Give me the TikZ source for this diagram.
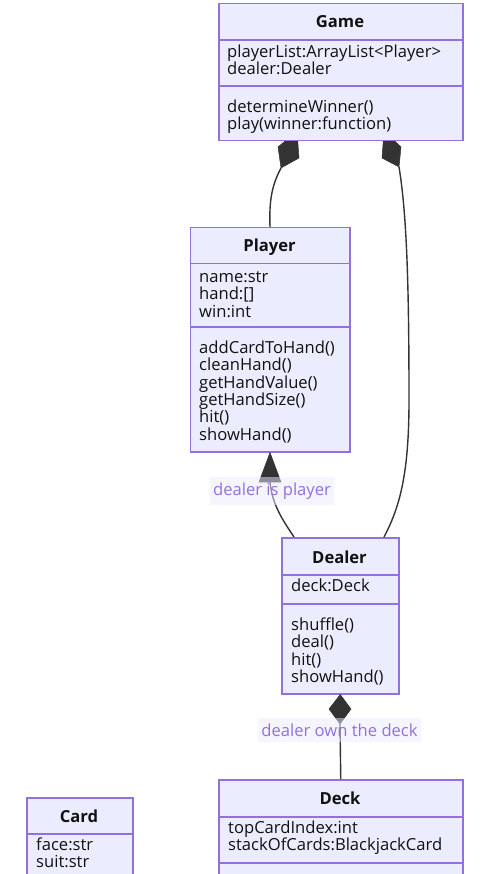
\documentclass[tikz,border=0pt]{standalone}
\usepackage{fontspec}
\setmainfont{Open Sans}
\definecolor{boxfill}{HTML}{ECECFF}
\definecolor{boxline}{HTML}{9370DB}
\definecolor{edge}{HTML}{333333}
\definecolor{txtcol}{HTML}{111111}
\begin{document}
\begin{tikzpicture}[x=1pt,y=-1pt,
  classbox/.style={draw=boxline,fill=boxfill,line width=1.5pt,inner sep=0pt,anchor=north west},
  sep/.style={draw=boxline,line width=1.5pt},
  title/.style={font=\fontsize{16.6}{17}\selectfont\bfseries,text=txtcol,inner sep=0pt,anchor=base},
  txt/.style={font=\fontsize{16.6}{17}\selectfont,text=txtcol,inner sep=0pt,anchor=base west},
  link/.style={draw=edge,line width=1.4pt},
  headfill/.style={fill=edge,draw=edge,line width=0.5pt},
  lbl/.style={fill=boxfill,fill opacity=0.5,text opacity=1,text=boxline,font=\fontsize{16.6}{17}\selectfont,inner xsep=3pt,inner ysep=6pt}
]
\useasboundingbox (0,0) rectangle (483,874);
\clip (0,0) rectangle (483,874);

% ---- composition diamonds at Game (behind box) ----
\coordinate (gdL) at (281,168);
\coordinate (gdR) at (399,167);
\fill[headfill] (gdL) -- (278,147) -- (297,131) -- (299,158) -- cycle;
\fill[headfill] (gdR) -- (401,147) -- (384,131) -- (382,158) -- cycle;

% ---- class boxes ----
\node[classbox,minimum width=244pt,minimum height=137pt] (game) at (218,3) {};
\node[classbox,minimum width=159.5pt,minimum height=224pt] (player) at (189.5,227) {};
\node[classbox,minimum width=117pt,minimum height=156pt] (dealer) at (281,537) {};
\node[classbox,minimum width=244pt,minimum height=120pt] (deck) at (218,779) {};
\node[classbox,minimum width=106pt,minimum height=100pt] (card) at (26,797) {};

% separators
\draw[sep] (218,40) -- (462,40);
\draw[sep] (218,86) -- (462,86);
\draw[sep] (189.5,263.5) -- (349,263.5);
\draw[sep] (189.5,327) -- (349,327);
\draw[sep] (281,575) -- (398,575);
\draw[sep] (281,604) -- (398,604);
\draw[sep] (218,817) -- (462,817);
\draw[sep] (218,863) -- (462,863);
\draw[sep] (26,834) -- (132,834);

% ---- texts ----
\node[title] (gameT) at (340,28) {Game};
\foreach \t [count=\i] in {playerList:ArrayList<Player>,dealer:Dealer}
  \node[txt] (gameA\i) at (227,{57.5+(\i-1)*17.3}) {\t};
\foreach \t [count=\i] in {determineWinner(),play(winner:function)}
  \node[txt] (gameM\i) at (227,{112.5+(\i-1)*17.3}) {\t};

\node[title] (playerT) at (269.5,251.5) {Player};
\foreach \t [count=\i] in {name:str,{hand:[]},win:int}
  \node[txt] (playerA\i) at (199,{282.5+(\i-1)*17.3}) {\t};
\foreach \t [count=\i] in {addCardToHand(),cleanHand(),getHandValue(),getHandSize(),hit(),showHand()}
  \node[txt] (playerM\i) at (199,{353.5+(\i-1)*17.3}) {\t};

\node[title] (dealerT) at (339.5,563.5) {Dealer};
\node[txt] (dealerA1) at (291,591.5) {deck:Deck};
\foreach \t [count=\i] in {shuffle(),deal(),hit(),showHand()}
  \node[txt] (dealerM\i) at (291,{630.5+(\i-1)*17.3}) {\t};

\node[title] (deckT) at (340,804.5) {Deck};
\foreach \t [count=\i] in {topCardIndex:int,stackOfCards:BlackjackCard}
  \node[txt] (deckA\i) at (228,{833.5+(\i-1)*17.3}) {\t};

\node[title] (cardT) at (79,822.5) {Card};
\foreach \t [count=\i] in {face:str,suit:str}
  \node[txt] (cardA\i) at (36,{850.5+(\i-1)*17.3}) {\t};

% ---- connectors ----
\coordinate (dlrL) at (294,537);
\coordinate (dlrR) at (384,537);
\draw[link] (gdL) .. controls (272,185) and (269,200) .. (player.north);
\draw[link] (gdR) .. controls (407,215) and (409,290) .. (409,400)
  .. controls (409,470) and (401,505) .. (dlrR);

% inheritance
\coordinate (triB) at (270,482);
\fill[headfill] (player.south) -- (281,482) -- (259,482) -- cycle;
\draw[link] (triB) .. controls (272,505) and (284,522) .. (dlrL);

% dealer owns deck
\coordinate (ddB) at (340,724);
\fill[headfill] (dealer.south) -- (351,709) -- (ddB) -- (329,709) -- cycle;
\draw[link] (ddB) -- (deck.north);

% ---- labels ----
\node[lbl] (lblIs) at (272,491) {dealer is player};
\node[lbl] (lblOwn) at (339.5,730) {dealer own the deck};
\end{tikzpicture}
\end{document}
